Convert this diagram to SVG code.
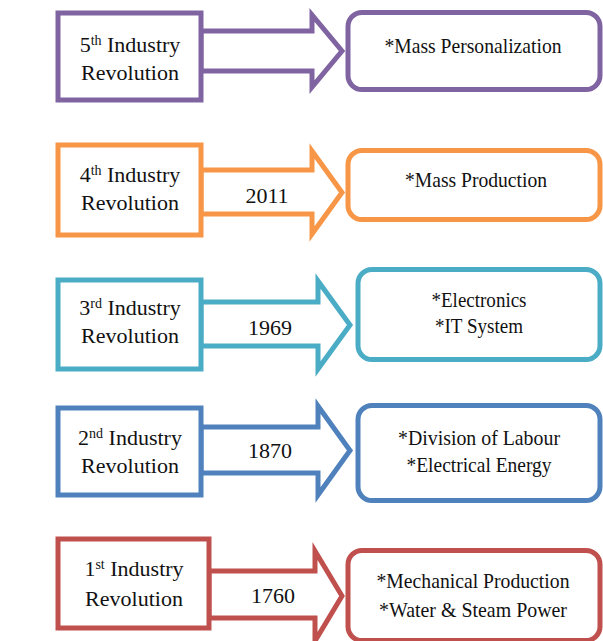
<svg xmlns="http://www.w3.org/2000/svg" width="603" height="641" viewBox="0 0 603 641">
<style>
.bg { fill: #ffffff; }
.box { fill: #ffffff; stroke-width: 5; }
.arrow { fill: #ffffff; stroke-width: 5; stroke-linejoin: miter; stroke-miterlimit: 10; }
.t { font-family: 'Liberation Serif', 'DejaVu Serif', 'Times New Roman', serif; font-size: 22px; fill: #111111; text-anchor: middle; }
.sup { font-size: 14px; }
.purple { stroke: #8064A2; }
.orange { stroke: #F79646; }
.teal { stroke: #4BACC6; }
.blue { stroke: #4F81BD; }
.red { stroke: #C0504D; }
</style>
<rect class="bg" x="0" y="0" width="603" height="641"/>

<g id="connectors">
  <polygon class="arrow purple" points="201,31 312,31 312,15 342,51 312,87 312,71 201,71"/>
  <polygon class="arrow orange" points="201,170 312,170 312,151 342,192.5 312,234 312,214 201,214"/>
  <text class="t" x="267" y="203" font-family="Liberation Serif, DejaVu Serif, serif">2011</text>
  <polygon class="arrow teal" points="201,302 318,302 318,281 350,325 318,369 318,346 201,346"/>
  <text class="t" x="270" y="335" font-family="Liberation Serif, DejaVu Serif, serif">1969</text>
  <polygon class="arrow blue" points="201,427 318,427 318,406 350,450.5 318,495 318,473 201,473"/>
  <text class="t" x="270" y="458" font-family="Liberation Serif, DejaVu Serif, serif">1870</text>
  <polygon class="arrow red" points="209,571 315,571 315,551 342,596 315,641 315,618 209,618"/>
  <text class="t" x="273" y="603" font-family="Liberation Serif, DejaVu Serif, serif">1760</text>
</g>

<g id="rev5">
  <rect class="box purple" x="58" y="13" width="143" height="87"/>
  <text class="t" x="130" y="52">5<tspan class="sup" dy="-7">th</tspan><tspan dy="7"> Industry</tspan></text>
  <text class="t" x="130" y="80">Revolution</text>
</g>
<g id="out5">
  <rect class="box purple" x="348" y="12.5" width="252" height="77" rx="14"/>
  <text class="t" x="473" y="53" textLength="177" lengthAdjust="spacingAndGlyphs">*Mass Personalization</text>
</g>

<g id="rev4">
  <rect class="box orange" x="58" y="145" width="143" height="90"/>
  <text class="t" x="130" y="182">4<tspan class="sup" dy="-7">th</tspan><tspan dy="7"> Industry</tspan></text>
  <text class="t" x="130" y="210">Revolution</text>
</g>
<g id="out4">
  <rect class="box orange" x="348" y="150.5" width="252" height="69" rx="14"/>
  <text class="t" x="476" y="187" textLength="142" lengthAdjust="spacingAndGlyphs">*Mass Production</text>
</g>

<g id="rev3">
  <rect class="box teal" x="58" y="280" width="143" height="89"/>
  <text class="t" x="130" y="315">3<tspan class="sup" dy="-7">rd</tspan><tspan dy="7"> Industry</tspan></text>
  <text class="t" x="130" y="343">Revolution</text>
</g>
<g id="out3">
  <rect class="box teal" x="358" y="269.5" width="242" height="90" rx="14"/>
  <text class="t" x="479" y="307" textLength="95" lengthAdjust="spacingAndGlyphs">*Electronics</text>
  <text class="t" x="479" y="333" textLength="88" lengthAdjust="spacingAndGlyphs">*IT System</text>
</g>

<g id="rev2">
  <rect class="box blue" x="58" y="408" width="143" height="87"/>
  <text class="t" x="130" y="445">2<tspan class="sup" dy="-7">nd</tspan><tspan dy="7"> Industry</tspan></text>
  <text class="t" x="130" y="473">Revolution</text>
</g>
<g id="out2">
  <rect class="box blue" x="358" y="405.5" width="242" height="95" rx="14"/>
  <text class="t" x="479" y="445" textLength="162" lengthAdjust="spacingAndGlyphs">*Division of Labour</text>
  <text class="t" x="479" y="472" textLength="145" lengthAdjust="spacingAndGlyphs">*Electrical  Energy</text>
</g>

<g id="rev1">
  <rect class="box red" x="58" y="539" width="151" height="89"/>
  <text class="t" x="134" y="576">1<tspan class="sup" dy="-7">st</tspan><tspan dy="7"> Industry</tspan></text>
  <text class="t" x="134" y="606">Revolution</text>
</g>
<g id="out1">
  <rect class="box red" x="348" y="550.5" width="252" height="90" rx="14"/>
  <text class="t" x="473" y="588" textLength="193" lengthAdjust="spacingAndGlyphs">*Mechanical Production</text>
  <text class="t" x="473" y="617" textLength="188" lengthAdjust="spacingAndGlyphs">*Water &amp; Steam Power</text>
</g>
</svg>
